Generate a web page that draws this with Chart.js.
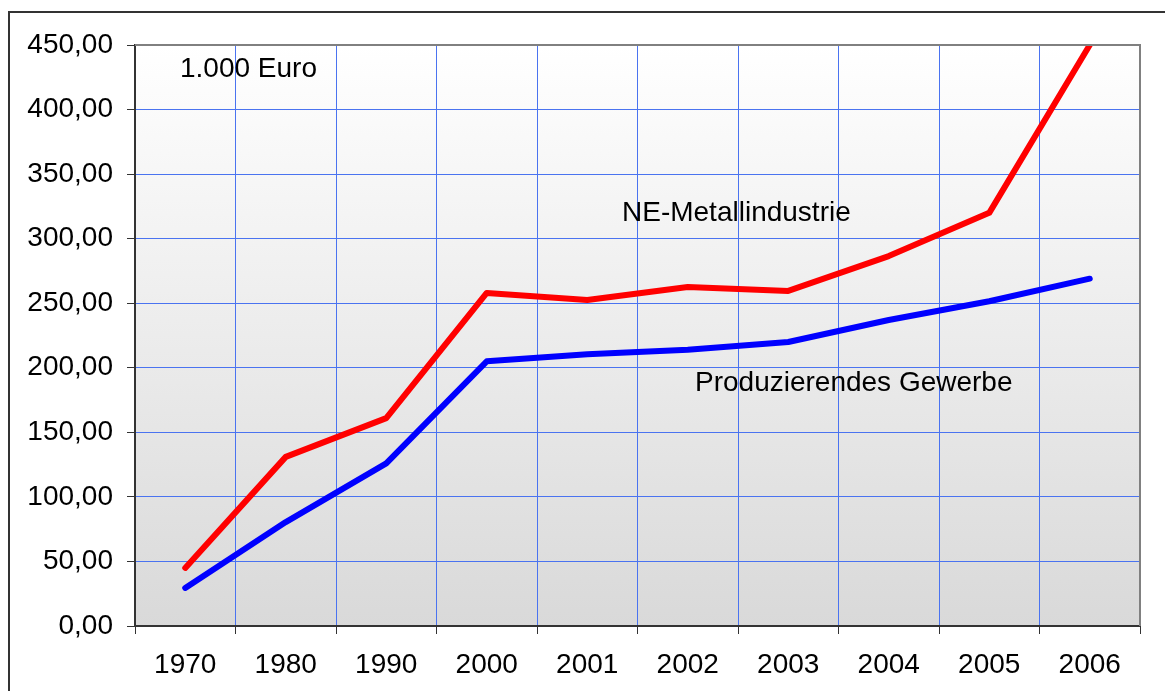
<!DOCTYPE html>
<html>
<head>
<meta charset="utf-8">
<script src="https://cdn.jsdelivr.net/npm/chart.js@4"></script>
<style>
  html, body { margin: 0; padding: 0; background: #fff; }
  #wrap { width: 1165px; height: 691px; position: relative; }
</style>
</head>
<body>
<div id="wrap"><canvas id="chart" width="1165" height="691"></canvas></div>
<script>
const jahre = ['1970', '1980', '1990', '2000', '2001', '2002', '2003', '2004', '2005', '2006']
const neMetall = [45, 131, 161, 258, 252.5, 262.5, 259.5, 286.5, 320, 450]
const produzierend = [29.5, 80.5, 126, 205, 210.5, 214, 220, 237, 251.5, 269]
const yTicks = [0, 50, 100, 150, 200, 250, 300, 350, 400, 450]

const fmt = (v) => v.toFixed(2).replace('.', ',')

// Hintergrund, Rahmen und Beschriftungen
const deko = {
  id: 'deko',
  beforeDraw(chart) {
    const { ctx, chartArea: a } = chart
    ctx.save()
    const g = ctx.createLinearGradient(0, a.top, 0, a.bottom)
    g.addColorStop(0, '#ffffff')
    g.addColorStop(1, '#d9d9d9')
    ctx.fillStyle = g
    ctx.fillRect(a.left, a.top, a.right - a.left, a.bottom - a.top)
    ctx.restore()
  },
  afterDatasetsDraw(chart) {
    const { ctx, chartArea: a } = chart
    ctx.save()
    ctx.strokeStyle = '#808080'
    ctx.lineWidth = 2
    ctx.beginPath()
    ctx.moveTo(a.left, a.top)
    ctx.lineTo(a.right, a.top)
    ctx.lineTo(a.right, a.bottom)
    ctx.stroke()
    ctx.restore()
  },
  afterDraw(chart) {
    const { ctx } = chart
    ctx.save()
    ctx.strokeStyle = '#333'
    ctx.lineWidth = 2
    ctx.strokeRect(9, 12, 1200, 720)
    ctx.fillStyle = '#000'
    ctx.font = '28px "Liberation Sans", Arial, sans-serif'
    ctx.textBaseline = 'middle'
    ctx.fillText('1.000 Euro', 180, 69)
    ctx.fillText('NE-Metallindustrie', 622, 213)
    ctx.fillText('Produzierendes Gewerbe', 695, 383)
    ctx.restore()
  }
}

Chart.defaults.font.family = '"Liberation Sans", Arial, sans-serif'
Chart.defaults.color = '#000'

new Chart(document.getElementById('chart'), {
  type: 'line',
  data: {
    labels: jahre,
    datasets: [
      {
        label: 'NE-Metallindustrie',
        data: neMetall,
        borderColor: '#ff0000',
        borderWidth: 6,
        pointRadius: 0,
        borderCapStyle: 'round',
        borderJoinStyle: 'round',
        tension: 0,
      },
      {
        label: 'Produzierendes Gewerbe',
        data: produzierend,
        borderColor: '#0000ff',
        borderWidth: 6,
        pointRadius: 0,
        borderCapStyle: 'round',
        borderJoinStyle: 'round',
        tension: 0,
      },
    ],
  },
  options: {
    responsive: false,
    animation: false,
    layout: { padding: { top: 45, right: 25, left: 0, bottom: 0 } },
    plugins: {
      legend: { display: false },
      tooltip: { enabled: false },
    },
    scales: {
      x: {
        offset: true,
        grid: {
          offset: true,
          color: '#4a73f0',
          lineWidth: 1,
          tickColor: '#333',
          tickLength: 8,
          drawTicks: true,
        },
        border: { color: '#333', width: 2 },
        ticks: { font: { size: 28 }, padding: 14, maxRotation: 0, autoSkip: false },
        afterFit(scale) { scale.height = 65 },
      },
      y: {
        min: 0,
        max: 450,
        afterBuildTicks(scale) { scale.ticks = yTicks.map((v) => ({ value: v })) },
        grid: {
          color: '#4a73f0',
          lineWidth: 1,
          tickColor: '#333',
          tickLength: 8,
        },
        border: { color: '#333', width: 2 },
        ticks: {
          font: { size: 28 },
          padding: 14,
          callback: (v) => fmt(v),
        },
        afterFit(scale) { scale.width = 135 },
      },
    },
  },
  plugins: [deko],
})
</script>
</body>
</html>
